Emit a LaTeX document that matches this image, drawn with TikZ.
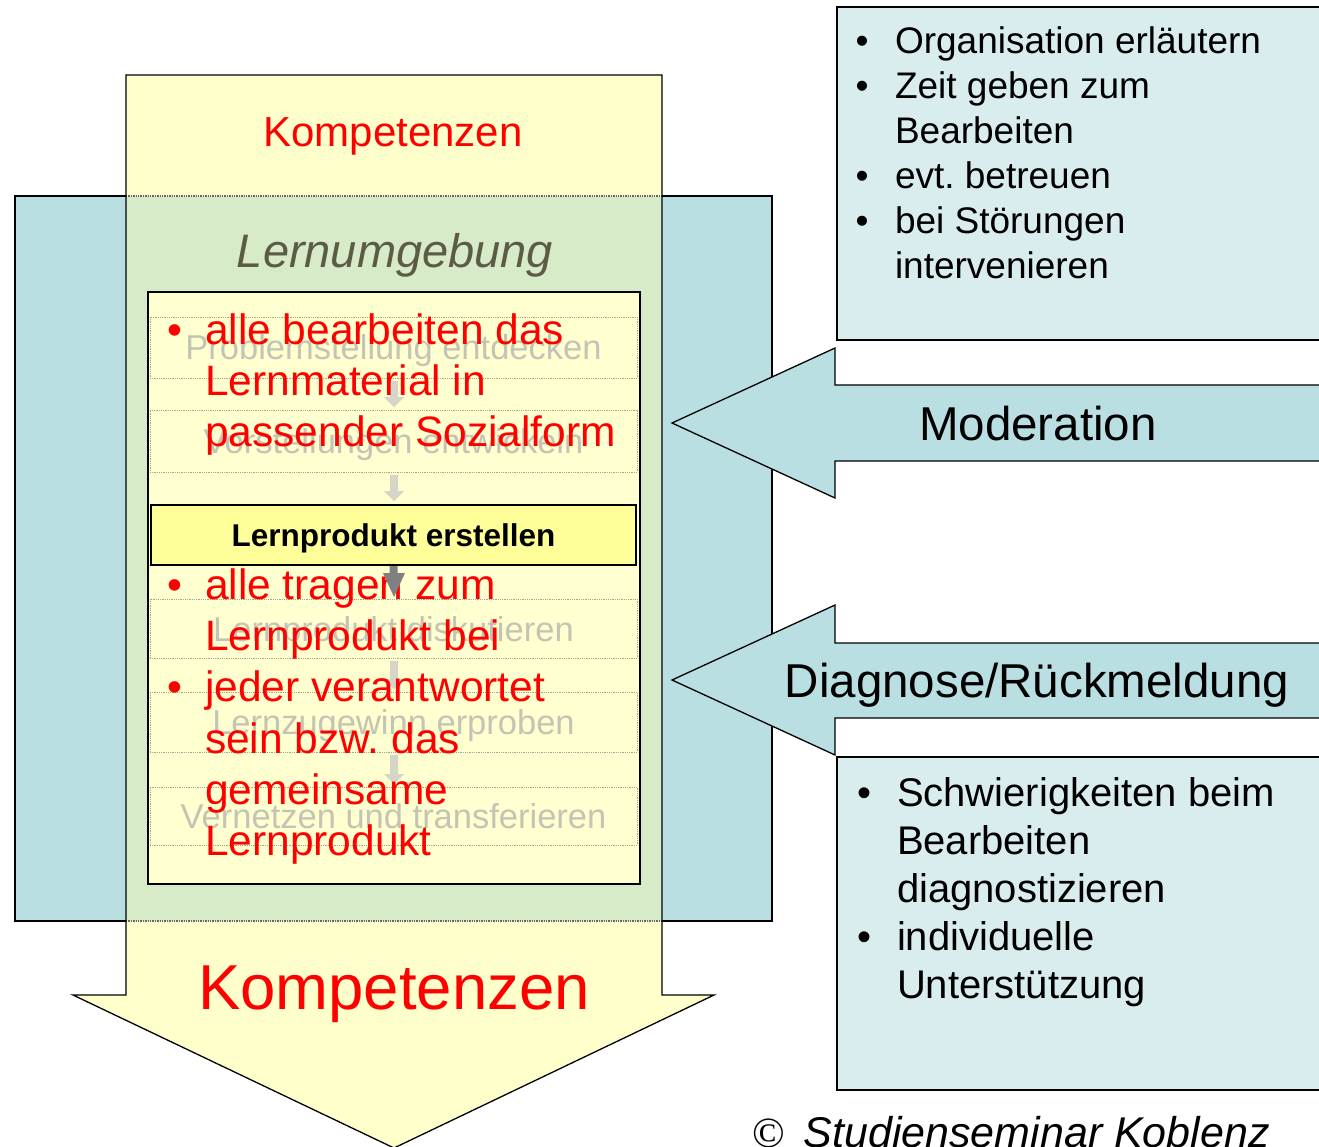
\documentclass[tikz,border=0pt]{standalone}
\usepackage{fontspec}
\setmainfont{Liberation Sans}
\newfontfamily\serifc{Liberation Serif}
\definecolor{blueA}{RGB}{185,223,226}
\definecolor{blueL}{RGB}{218,237,238}
\definecolor{yelA}{RGB}{255,255,204}
\definecolor{grnA}{RGB}{216,235,201}
\definecolor{yelIn}{RGB}{255,255,208}
\definecolor{yelBox}{RGB}{255,255,153}
\definecolor{redT}{RGB}{255,0,0}
\definecolor{lernC}{RGB}{92,92,70}
\definecolor{ghostC}{RGB}{196,196,182}
\definecolor{ghostA}{RGB}{214,214,200}
\definecolor{ghostL}{RGB}{165,165,150}
\newcommand\fsz[1]{\fontsize{#1}{#1}\selectfont}
\frenchspacing
\begin{document}
\begin{tikzpicture}[x=1pt,y=-1pt,
  every node/.style={inner sep=0pt,outer sep=0pt},
  redline/.style={anchor=base west,text=redT,font=\fsz{42.5}},
  redbul/.style={anchor=base,text=redT,font=\fsz{42.5}},
  tline/.style={anchor=base west,font=\fsz{37}},
  tbul/.style={anchor=base,font=\fsz{37}},
  bline/.style={anchor=base west,font=\fsz{40}},
  bbul/.style={anchor=base,font=\fsz{40}},
  ghostbox/.style={draw=ghostL,densely dotted,line width=0.8pt,minimum width=487pt},
  ghosttext/.style={anchor=base,text=ghostC,font=\fsz{34.5}},
  ghostarrow/.style={fill=ghostA},
  outline/.style={draw=black,line width=1.3pt},
  sidebox/.style={draw=black,line width=1.3pt,fill=blueL,anchor=north west,minimum width=520pt,minimum height=333pt},
  sidearrow/.style={draw=black,line width=1.3pt,fill=blueA},
  arrowlabel/.style={anchor=base,font=\fsz{47.5}}
]
\clip (0,0) rectangle (1319,1146);
\fill[white] (0,0) rectangle (1319,1146);

% blue background block (Lernumgebung)
\draw[line width=1.6pt,fill=blueA] (15,196) rectangle (772,921);

% big yellow arrow (Kompetenzen)
\fill[yelA] (126,75) -- (662,75) -- (662,995) -- (714,995) -- (394,1148) -- (73,995) -- (126,995) -- cycle;
\fill[grnA] (126,196) rectangle (662,921);
\draw[black!60,densely dotted,line width=1.4pt] (126,196) -- (662,196) (126,921) -- (662,921);
\draw[outline] (126,75) -- (662,75) -- (662,995) -- (714,995) -- (394,1148) -- (73,995) -- (126,995) -- cycle;

\node[anchor=base,text=redT,font=\fsz{42}] (komp1) at (393,146) {Kompetenzen};
\node[anchor=base,text=lernC,font=\fsz{47}\itshape] (lern) at (395,267) {Lernumgebung};
\node[anchor=base,text=redT,font=\fsz{63.5}] (komp2) at (394,1009) {Kompetenzen};

% inner box
\node[draw=black,line width=1.6pt,fill=yelIn,minimum width=492pt,minimum height=592pt] (inner) at (394,588) {};

% ghost steps
\node[ghostbox,minimum height=61pt] (g1) at (393.5,347.5) {};
\node[ghosttext] (g1t) at (393.5,359.5) {Problemstellung entdecken};
\node[ghostbox,minimum height=62pt] (g2) at (393.5,441) {};
\node[ghosttext] (g2t) at (393.5,453) {Vorstellungen entwickeln};
\node[ghostbox,minimum height=59pt] (g4) at (393.5,628.5) {};
\node[ghosttext] (g4t) at (393.5,641) {Lernprodukt diskutieren};
\node[ghostbox,minimum height=60pt] (g5) at (393.5,722) {};
\node[ghosttext] (g5t) at (393.5,734) {Lernzugewinn erproben};
\node[ghostbox,minimum height=58pt] (g6) at (393.5,816) {};
\node[ghosttext] (g6t) at (393.5,828) {Vernetzen und transferieren};

% ghost arrows between steps
\foreach \ya/\yb in {381/407, 475/501, 661/689, 755/784}{
  \fill[ghostarrow] (390,\ya) -- (398,\ya) -- ({398},{\yb-10}) -- (404,{\yb-10}) -- (394,\yb) -- (384,{\yb-10}) -- (390,{\yb-10}) -- cycle;
}

% Lernprodukt erstellen
\node[draw=black,line width=1.6pt,fill=yelBox,minimum width=485pt,minimum height=60pt] (lp) at (393.5,535) {};
\node[anchor=base,font=\fsz{31.5}\bfseries] (lpt) at (393.5,546) {Lernprodukt erstellen};

% red bullet texts
\node[redbul] (rb1) at (175,344) {•};
\node[redline] (r11) at (205,344) {alle bearbeiten das};
\node[redline] (r12) at (205,395) {Lernmaterial in};
\node[redline] (r13) at (205,446) {passender Sozialform};

\node[redbul] (rb2) at (175,599) {•};
\node[redline] (r21) at (205,599) {alle tragen zum};
\node[redline] (r22) at (205,650) {Lernprodukt bei};
\node[redbul] (rb3) at (175,701) {•};
\node[redline] (r31) at (205,701) {jeder verantwortet};
\node[redline] (r32) at (205,753) {sein bzw. das};
\node[redline] (r33) at (205,804) {gemeinsame};
\node[redline] (r34) at (205,855) {Lernprodukt};

% gray arrow below Lernprodukt erstellen
\fill[black!50] (389.5,566) -- (397.5,566) -- (397.5,573) -- (405,573) -- (394,597) -- (383,573) -- (389.5,573) -- cycle;

% right boxes
\node[sidebox] (tr) at (837,7) {};
\node[tbul] (tb1) at (862,53) {•};
\node[tline] (t1) at (895,53) {Organisation erläutern};
\node[tbul] (tb2) at (862,98) {•};
\node[tline] (t2) at (895,98) {Zeit geben zum};
\node[tline] (t3) at (895,143) {Bearbeiten};
\node[tbul] (tb4) at (862,188) {•};
\node[tline] (t4) at (895,188) {evt. betreuen};
\node[tbul] (tb5) at (862,233) {•};
\node[tline] (t5) at (895,233) {bei Störungen};
\node[tline] (t6) at (895,278) {intervenieren};

\node[sidebox] (br) at (837,757) {};
\node[bbul] (bb1) at (864,806) {•};
\node[bline] (b1) at (897,806) {Schwierigkeiten beim};
\node[bline] (b2) at (897,854) {Bearbeiten};
\node[bline] (b3) at (897,902) {diagnostizieren};
\node[bbul] (bb4) at (864,950) {•};
\node[bline] (b4) at (897,950) {individuelle};
\node[bline] (b5) at (897,998) {Unterstützung};

% side arrows
\draw[sidearrow] (672,423) -- (835,348) -- (835,385) -- (1330,385) -- (1330,461) -- (835,461) -- (835,498) -- cycle;
\node[arrowlabel] (mod) at (1038,440) {Moderation};
\draw[sidearrow] (672,680) -- (835,605) -- (835,643) -- (1330,643) -- (1330,718) -- (835,718) -- (835,755) -- cycle;
\node[arrowlabel] (diag) at (1037,697) {Diagnose/Rückmeldung};

% copyright
\node[anchor=base west,font=\fsz{43}] (copy) at (752,1147) {{\serifc ©}\hspace{19pt}\textit{Studienseminar Koblenz}};
\end{tikzpicture}
\end{document}
